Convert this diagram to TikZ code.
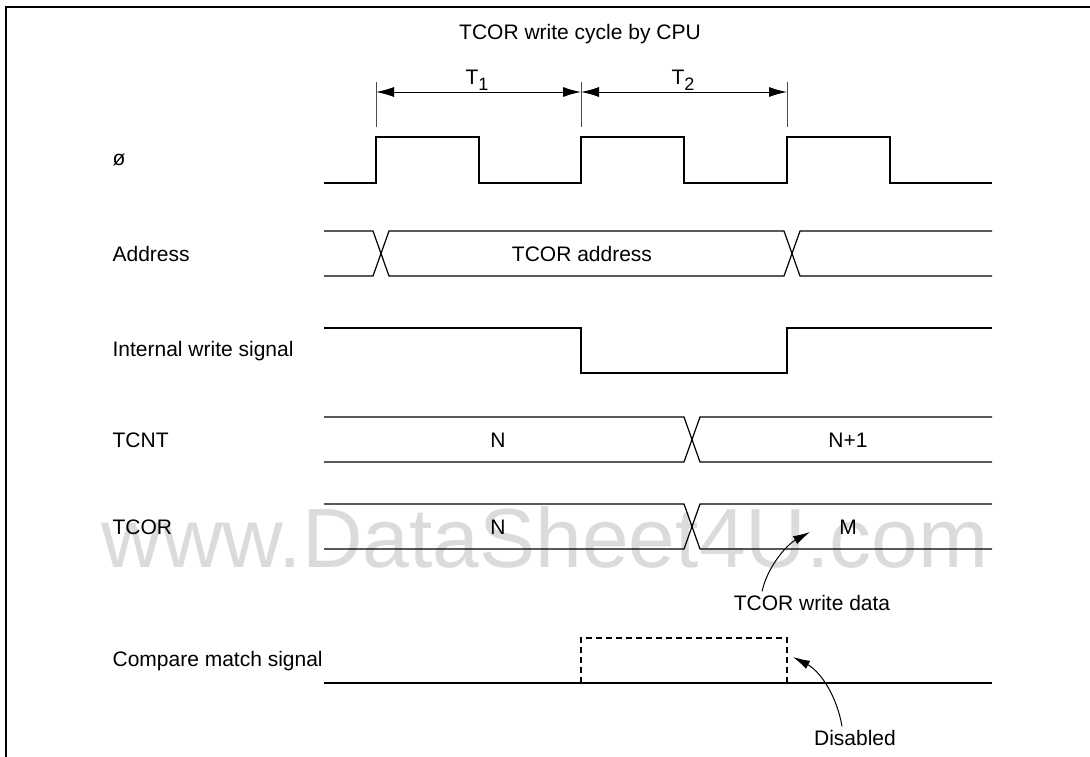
\documentclass[tikz,border=0pt]{standalone}
\usepackage{fontspec}
\setmainfont{Liberation Sans}
\usetikzlibrary{arrows.meta}

\begin{document}
\begin{tikzpicture}[x=1pt,y=-1pt,line width=1.2pt,
        >={Latex[length=18pt,width=10pt]},
        siglabel/.style={anchor=west,inner sep=2pt,font=\fontsize{21}{25}\selectfont},
        txt/.style={font=\fontsize{21}{25}\selectfont}]
        \useasboundingbox (0,0) rectangle (1090,756);
        \clip (0,0) rectangle (1090,756);
        \node[text=black!14,font=\fontsize{84}{90}\selectfont] (watermark) at (545,537) {www.DataSheet4U.com};
        \draw[line width=2pt] (6,7) rectangle (1100,770);
        % signal names
        \node[siglabel] (phi) at (110,160) {ø};
        \node[siglabel] (addr) at (110,254) {Address};
        \node[siglabel] (wr) at (110,351) {Internal write signal};
        \node[siglabel] (tcnt) at (110,440) {TCNT};
        \node[siglabel] (tcor) at (110,527) {TCOR};
        \node[siglabel] (cmp) at (110,661) {Compare match signal};
        % cycle T1, T2
        \node[txt] (title) at (580,34) {TCOR write cycle by CPU};
        \node[txt] (t1) at (477,80) {T\raisebox{-0.3em}{\fontsize{18}{20}\selectfont 1}};
        \node[txt] (t2) at (683,80) {T\raisebox{-0.3em}{\fontsize{18}{20}\selectfont 2}};
        \coordinate (k0) at (376,92);
        \coordinate (k1) at (581,92);
        \coordinate (k2) at (787,92);
        \draw[line width=0.8pt,black!70] (376,82) -- (376,127);
        \draw[line width=0.8pt,black!70] (581,82) -- (581,127);
        \draw[line width=0.8pt,black!70] (787,82) -- (787,127);
        \draw[<->,line width=1pt] (k0) -- (k1);
        \draw[<->,line width=1pt] (k1) -- (k2);
        % clock
        \draw (324,183) -- (376,183) -- (376,137) -- (479,137) -- (479,183) -- (581,183) -- (581,137) -- (684,137) -- (684,183) -- (787,183) -- (787,137) -- (890,137) -- (890,183) -- (992,183);
        % address
        \draw (324,231) -- (373,231) -- (389,276) -- (784,276) -- (800,231) -- (992,231);
        \draw (324,276) -- (373,276) -- (389,231) -- (784,231) -- (800,276) -- (992,276);
        \node[txt] (addrval) at (582,254) {TCOR address};
        % internal write
        \draw (324,328) -- (581,328) -- (581,373) -- (787,373) -- (787,328) -- (992,328);
        % TCNT
        \draw (324,417) -- (684,417) -- (700,462) -- (992,462);
        \draw (324,462) -- (684,462) -- (700,417) -- (992,417);
        \node[txt] (cntn) at (498,440) {N};
        \node[txt] (cntn1) at (848,440) {N+1};
        % TCOR
        \draw (324,504) -- (684,504) -- (700,549) -- (992,549);
        \draw (324,549) -- (684,549) -- (700,504) -- (992,504);
        \node[txt] (corn) at (498,527) {N};
        \node[txt] (corm) at (848,527) {M};
        % compare match
        \draw (324,683) -- (992,683);
        \draw[line width=1.2pt,dash pattern=on 6pt off 4pt] (581,683) -- (581,638) -- (787,638) -- (787,683);
        % notes
        \node[txt] (wdata) at (812,603) {TCOR write data};
        \coordinate (mtip) at (810,532);
        \draw[->,line width=1pt,>={Latex[length=17pt,width=9pt]}] ([xshift=-50pt]wdata.north) .. controls (768,565) and (788,544) .. (mtip);
        \node[txt] (dis) at (855,738) {Disabled};
        \coordinate (distip) at (793,657);
        \draw[->,line width=1pt,>={Latex[length=17pt,width=9pt]}] ([xshift=-13pt]dis.north) .. controls (836,692) and (818,670) .. (distip);
    \end{tikzpicture}
\end{document}
